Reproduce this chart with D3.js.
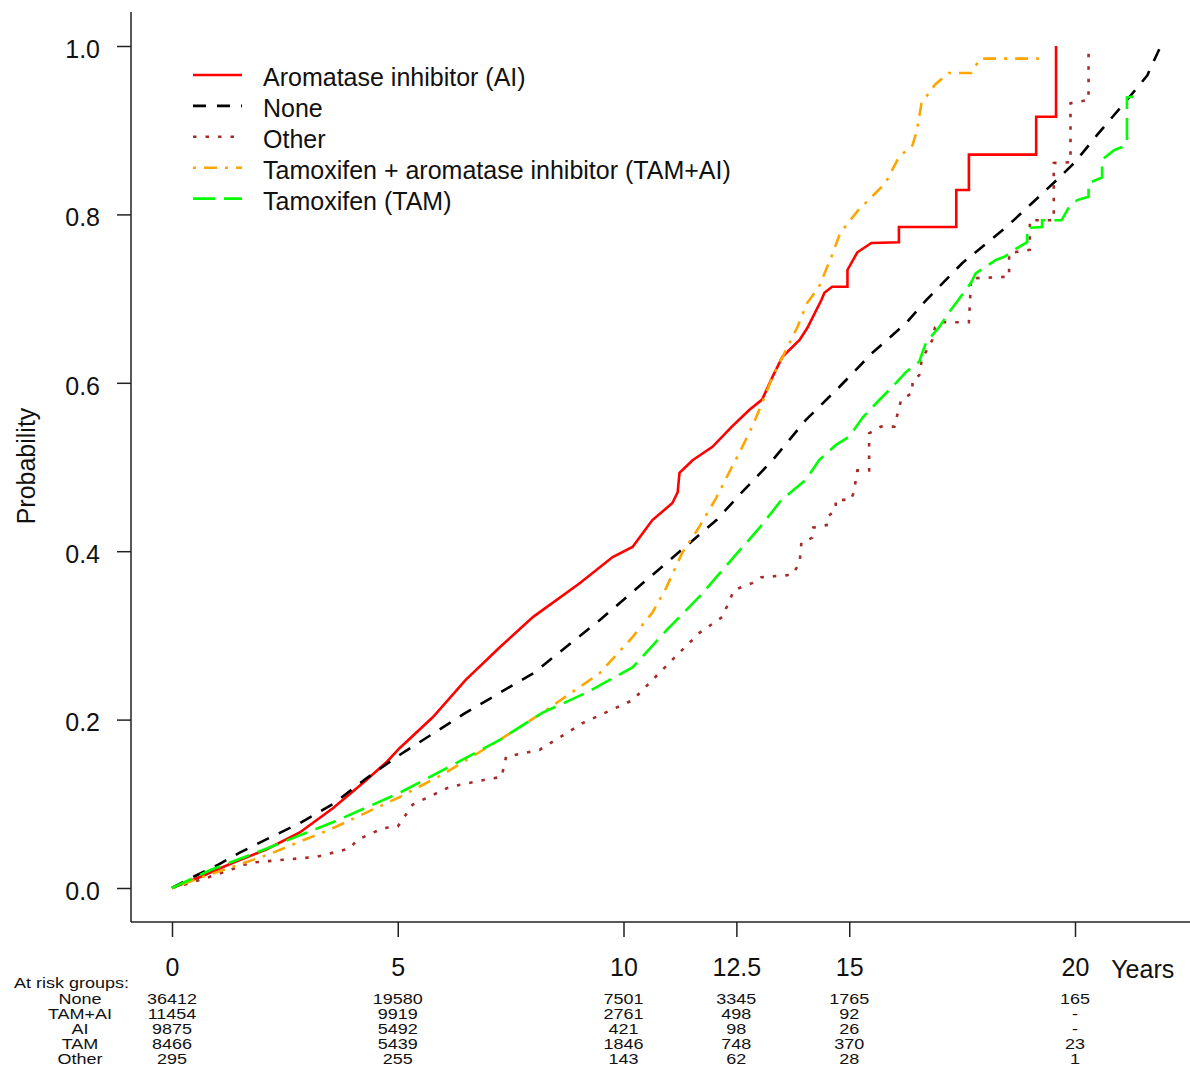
<!DOCTYPE html>
<html>
<head>
<meta charset="utf-8">
<script src="https://cdn.jsdelivr.net/npm/d3@7"></script>
<style>
  body { margin: 0; background: #fff; }
  svg { display: block; font-family: "Liberation Sans", Arial, sans-serif; }
</style>
</head>
<body>
<svg id="chart" width="1190" height="1067"></svg>
<script>
(function(){

	// ticks
	var xTicks = [0, 5, 10, 12.5, 15, 20];
	var yTicks = [0, 0.2, 0.4, 0.6, 0.8, 1.0];

	// at risk table
	var riskTimes = [0, 5, 10, 12.5, 15, 20];
	var riskGroups = ["None", "TAM+AI", "AI", "TAM", "Other"];
	var riskNone  = ["36412", "19580", "7501", "3345", "1765", "165"];
	var riskTamAi = ["11454", "9919", "2761", "498", "92", "-"];
	var riskAi    = ["9875", "5492", "421", "98", "26", "-"];
	var riskTam   = ["8466", "5439", "1846", "748", "370", "23"];
	var riskOther = ["295", "255", "143", "62", "28", "1"];

	// cumulative probability curves [years, probability]
	var aiCurve = [[0,0],[0.62,0.013],[1.35,0.03],[2.1,0.046],[2.83,0.066],[3.57,0.095],[4.3,0.128],[4.76,0.15],
		[5.04,0.166],[5.78,0.203],[6.5,0.247],[7.26,0.286],[8,0.322],[9.03,0.362],[9.76,0.393],[10.2,0.405],
		[10.64,0.437],[11.08,0.457],[11.2,0.47],[11.24,0.493],[11.53,0.508],[11.97,0.524],[12.4,0.548],
		[12.79,0.568],[13.07,0.58],[13.3,0.607],[13.52,0.631],[13.9,0.651],[14.07,0.665],[14.38,0.698],
		[14.45,0.707],[14.62,0.714],[14.96,0.714],[14.96,0.734],[15.18,0.755],[15.49,0.766],[16.1,0.767],
		[16.1,0.785],[17.37,0.785],[17.37,0.829],[17.65,0.829],[17.65,0.871],[19.14,0.871],[19.14,0.916],
		[19.58,0.916],[19.58,1.0]];

	var noneCurve = [[0,0],[0.5,0.014],[1,0.027],[1.5,0.042],[2.1,0.058],[2.83,0.077],[3.57,0.1],[4.3,0.13],
		[5.04,0.158],[6.5,0.208],[8,0.255],[9.47,0.318],[10.95,0.386],[12.06,0.437],[12.57,0.467],[13.3,0.508],
		[14.04,0.556],[14.78,0.595],[15.5,0.635],[16.26,0.671],[16.7,0.698],[17.5,0.742],[18.5,0.786],
		[19.6,0.841],[20,0.862],[20.5,0.895],[21.2,0.939],[21.6,0.965],[21.9,1.0]];

	var otherCurve = [[0,0],[0.4,0.006],[1,0.016],[1.73,0.03],[3.2,0.037],[3.94,0.047],[4.1,0.057],[4.67,0.071],
		[5,0.073],[5.33,0.099],[6.15,0.12],[6.88,0.128],[7.3,0.132],[7.4,0.156],[8.14,0.164],[9.1,0.196],
		[10.2,0.223],[11.08,0.271],[11.68,0.303],[12.19,0.322],[12.45,0.354],[12.85,0.362],[13.05,0.369],
		[13.74,0.372],[13.9,0.386],[13.94,0.41],[14.18,0.416],[14.2,0.428],[14.5,0.431],[14.52,0.441],
		[14.7,0.449],[14.7,0.461],[15.04,0.461],[15.1,0.47],[15.18,0.496],[15.44,0.496],[15.44,0.54],
		[15.7,0.548],[16,0.548],[16.15,0.58],[16.4,0.588],[16.4,0.603],[16.55,0.609],[16.6,0.625],
		[16.66,0.633],[16.84,0.651],[16.9,0.666],[17.06,0.672],[17.65,0.672],[17.7,0.724],[18.54,0.726],
		[18.54,0.754],[19,0.758],[19,0.793],[19.53,0.793],[19.53,0.861],[19.9,0.862],[19.9,0.932],
		[20.3,0.936],[20.3,1.0]];

	var tamAiCurve = [[0,0],[0.62,0.012],[2.1,0.039],[3.56,0.071],[5.04,0.108],[6,0.135],[7.26,0.176],
		[8.2,0.208],[9.47,0.255],[10.2,0.298],[10.64,0.327],[10.95,0.357],[11.3,0.398],[11.68,0.429],
		[12.06,0.464],[12.4,0.5],[12.57,0.517],[12.85,0.548],[13.07,0.576],[13.3,0.607],[13.6,0.639],
		[13.85,0.666],[14.07,0.695],[14.33,0.714],[14.6,0.749],[14.8,0.778],[15.2,0.805],[15.8,0.837],
		[16.1,0.868],[16.4,0.882],[16.5,0.9],[16.6,0.932],[16.9,0.954],[17.2,0.968],[17.7,0.968],
		[17.9,0.985],[19.2,0.985]];

	var tamCurve = [[0,0],[0.84,0.021],[2.1,0.047],[3.56,0.078],[5.04,0.113],[6,0.14],[7.26,0.176],
		[8.2,0.208],[9.18,0.232],[10.2,0.262],[10.95,0.306],[11.68,0.346],[12.2,0.378],[12.57,0.401],
		[13,0.427],[13.5,0.461],[14.04,0.485],[14.33,0.508],[14.7,0.526],[15,0.536],[15.3,0.559],
		[15.6,0.576],[15.95,0.595],[16.26,0.613],[16.55,0.625],[16.7,0.648],[16.99,0.666],[17.2,0.683],
		[17.37,0.695],[17.7,0.719],[17.8,0.73],[18.25,0.746],[18.45,0.75],[18.65,0.758],[18.94,0.767],
		[18.94,0.784],[19.27,0.785],[19.27,0.793],[19.7,0.793],[19.87,0.809],[20.05,0.817],[20.3,0.821],
		[20.3,0.837],[20.6,0.844],[20.6,0.865],[20.86,0.876],[21.04,0.88],[21.15,0.885],[21.15,0.939],
		[21.3,0.94]];

	var series = [
		{ label : "Aromatase inhibitor (AI)", data : aiCurve, color : "#ff0000", dash : null },
		{ label : "None", data : noneCurve, color : "#000000", dash : "13 11" },
		{ label : "Other", data : otherCurve, color : "#a52a2a", dash : "3.5 9" },
		{ label : "Tamoxifen + aromatase inhibitor (TAM+AI)", data : tamAiCurve, color : "#ffa500", dash : "3 8 13 8" },
		{ label : "Tamoxifen (TAM)", data : tamCurve, color : "#00ff00", dash : "22 9" }
	];

	var svg = d3.select("#chart");
	var ink = "#111";

	var x = d3.scaleLinear().domain([0, 20]).range([172, 1075]);
	var y = d3.scaleLinear().domain([0, 1]).range([888, 46]);

	var axisLeftX = 131, axisBottomY = 922;

	// frame: left and bottom lines only
	svg.append("line")
		.attr("x1", axisLeftX).attr("x2", axisLeftX)
		.attr("y1", 12).attr("y2", axisBottomY)
		.attr("stroke", "#222").attr("stroke-width", 1.5);
	svg.append("line")
		.attr("x1", axisLeftX).attr("x2", 1190)
		.attr("y1", axisBottomY).attr("y2", axisBottomY)
		.attr("stroke", "#222").attr("stroke-width", 1.5);

	var gy = svg.append("g")
		.attr("transform", "translate(" + axisLeftX + ",0)")
		.call(d3.axisLeft(y).tickValues(yTicks).tickFormat(d3.format(".1f")).tickSize(14).tickPadding(17));
	gy.select(".domain").remove();
	gy.selectAll("line").attr("stroke", "#222").attr("stroke-width", 1.5);
	gy.selectAll("text").attr("font-size", 25).attr("font-family", null).attr("fill", ink).attr("dy", "0.45em");

	var gx = svg.append("g")
		.attr("transform", "translate(0," + axisBottomY + ")")
		.call(d3.axisBottom(x).tickValues(xTicks).tickFormat(function(d){ return d; }).tickSize(15).tickPadding(21));
	gx.select(".domain").remove();
	gx.selectAll("line").attr("stroke", "#222").attr("stroke-width", 1.5);
	gx.selectAll("text").attr("font-size", 25).attr("font-family", null).attr("fill", ink);

	svg.append("text")
		.attr("x", x(21.5)).attr("y", 978)
		.attr("text-anchor", "middle").attr("font-size", 25).attr("fill", ink)
		.text("Years");

	svg.append("text")
		.attr("transform", "translate(35,466) rotate(-90)")
		.attr("text-anchor", "middle").attr("font-size", 25).attr("fill", ink)
		.text("Probability");

	// curves
	var line = d3.line()
		.x(function(d){ return x(d[0]); })
		.y(function(d){ return y(d[1]); });

	svg.append("g").selectAll("path").data(series).enter().append("path")
		.attr("d", function(d){ return line(d.data); })
		.attr("fill", "none")
		.attr("stroke", function(d){ return d.color; })
		.attr("stroke-width", 2.6)
		.attr("stroke-dasharray", function(d){ return d.dash; });

	// legend
	var legend = svg.append("g").selectAll("g").data(series).enter().append("g")
		.attr("transform", function(d, i){ return "translate(193," + (75 + i * 30.9) + ")"; });
	legend.append("line")
		.attr("x1", 0).attr("x2", 49).attr("y1", 0).attr("y2", 0)
		.attr("stroke", function(d){ return d.color; })
		.attr("stroke-width", 2.6)
		.attr("stroke-dasharray", function(d){ return d.dash; });
	legend.append("text")
		.attr("x", 70).attr("y", 11)
		.attr("font-size", 25).attr("fill", ink)
		.text(function(d){ return d.label; });

	// at risk table, rows squeezed vertically as in the original device output
	var riskRows = [riskNone, riskTamAi, riskAi, riskTam, riskOther];
	var rowY = function(i){ return 1004 + i * 15; };

	svg.append("g")
		.attr("transform", "translate(14,988) scale(1,0.8)")
		.append("text")
		.attr("font-size", 18).attr("fill", ink)
		.text("At risk groups:");

	riskGroups.forEach(function(name, i){
		var row = svg.append("g")
			.attr("transform", "translate(0," + rowY(i) + ") scale(1,0.8)");
		row.append("text")
			.attr("x", 80)
			.attr("text-anchor", "middle").attr("font-size", 18).attr("fill", ink)
			.text(name);
		row.selectAll("text.n").data(riskRows[i]).enter().append("text")
			.attr("class", "n")
			.attr("x", function(d, j){ return x(riskTimes[j]); })
			.attr("text-anchor", "middle").attr("font-size", 18).attr("fill", ink)
			.text(function(d){ return d; });
	});

})();
</script>
</body>
</html>
